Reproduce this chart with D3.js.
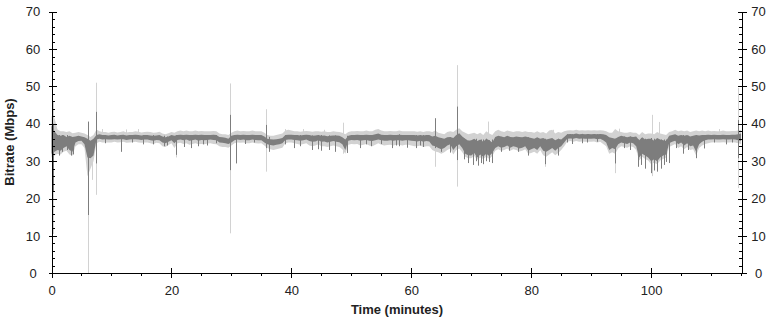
<!DOCTYPE html>
<html>
<head>
<meta charset="utf-8">
<script src="https://cdn.jsdelivr.net/npm/d3@7"></script>
<style>
  html, body { margin: 0; padding: 0; background: #fff; }
  svg { display: block; }
  .tick text { font-family: "Liberation Sans", Arial, sans-serif; font-size: 13px; fill: #222; }
  .title { font-family: "Liberation Sans", Arial, sans-serif; font-size: 13px; font-weight: bold; fill: #222; }
</style>
</head>
<body>
<svg id="root"></svg>
<script>
// samples every half minute, 0 .. 115 min
const sampleStep = 0.5

// dark trace (average) band, low / high edge in Mbps
const darkHi = [
  39.5, 38.0, 37.0, 36.8, 37.0, 36.5, 36.8, 36.5, 36.6, 36.8, 36.6, 36.4, 36.0, 35.5, 36.0, 37.0, 37.2, 37.0, 37.0, 36.9,
  37.0, 37.1, 36.9, 37.0, 37.1, 36.9, 37.0, 37.0, 37.1, 37.0, 36.9, 37.0, 37.0, 36.9, 36.8, 36.9, 37.0, 36.6, 36.4, 36.6,
  37.0, 36.8, 37.0, 37.1, 37.0, 37.1, 37.0, 37.0, 37.1, 37.0, 37.1, 37.0, 37.0, 37.0, 37.1, 37.0, 36.5, 36.4, 36.3, 36.0,
  36.8, 37.0, 37.1, 37.0, 37.1, 37.0, 37.0, 37.1, 37.0, 37.0, 37.0, 36.6, 36.0, 35.9, 35.8, 35.9, 36.0, 36.2, 37.0, 37.1,
  37.1, 37.0, 37.0, 36.9, 37.0, 37.1, 37.0, 36.8, 36.9, 37.0, 36.8, 36.9, 36.7, 36.8, 36.9, 36.9, 36.8, 36.4, 35.8, 36.8,
  37.0, 37.0, 37.1, 37.0, 37.0, 37.1, 37.0, 37.0, 37.2, 37.4, 37.1, 37.0, 37.0, 37.1, 37.0, 37.0, 37.1, 37.0, 37.0, 37.0,
  37.0, 37.0, 36.9, 37.0, 36.9, 37.0, 37.0, 36.6, 36.8, 36.4, 36.2, 36.0, 36.4, 36.5, 36.2, 37.0, 37.5, 36.6, 36.0, 35.5,
  35.6, 36.0, 35.4, 35.8, 35.2, 36.0, 35.6, 35.0, 36.5, 36.8, 36.6, 36.4, 36.8, 36.5, 36.4, 36.6, 36.5, 36.4, 36.6, 36.4,
  36.2, 36.0, 36.4, 36.0, 36.2, 35.8, 36.0, 36.2, 35.6, 36.0, 35.8, 36.5, 37.2, 37.3, 37.2, 37.4, 37.2, 37.3, 37.2, 37.3,
  37.2, 37.3, 37.2, 37.3, 37.2, 37.0, 36.4, 36.2, 36.0, 36.5, 36.8, 36.6, 36.4, 36.6, 36.5, 36.6, 35.6, 36.4, 35.8, 36.0,
  36.0, 35.5, 36.2, 35.8, 35.6, 35.4, 36.8, 37.0, 37.2, 36.8, 37.0, 36.8, 37.0, 36.6, 36.8, 37.0, 36.9, 37.0, 37.0, 37.1,
  37.0, 37.1, 37.0, 37.0, 37.1, 37.0, 37.0, 37.1, 37.1, 37.2, 37.4
]
const darkLo = [
  32.0, 32.5, 33.0, 32.8, 33.5, 34.0, 33.0, 32.5, 35.0, 35.4, 35.5, 34.5, 31.0, 30.8, 31.5, 35.8, 36.0, 35.8, 35.9, 35.8,
  35.8, 35.9, 35.8, 35.9, 35.9, 35.7, 35.8, 35.9, 35.9, 35.8, 35.7, 35.8, 35.8, 35.6, 35.5, 35.7, 35.6, 35.0, 34.8, 35.2,
  35.6, 34.8, 35.7, 35.8, 35.6, 35.8, 35.5, 35.6, 35.8, 35.5, 35.7, 35.6, 35.7, 35.8, 35.7, 35.6, 35.0, 34.9, 34.8, 34.6,
  35.0, 35.6, 35.8, 35.7, 35.8, 35.6, 35.6, 35.8, 35.7, 35.6, 35.6, 35.0, 34.5, 34.3, 34.2, 34.4, 34.5, 34.8, 35.7, 35.8,
  35.8, 35.7, 35.6, 35.5, 35.6, 35.8, 35.4, 35.2, 35.3, 35.6, 35.2, 35.3, 35.0, 35.2, 35.4, 35.2, 35.1, 34.5, 33.0, 35.5,
  35.7, 35.6, 35.7, 35.5, 35.6, 35.7, 35.5, 35.4, 35.6, 35.8, 35.6, 35.5, 35.5, 35.6, 35.5, 35.6, 35.6, 35.5, 35.6, 35.6,
  35.5, 35.4, 35.3, 35.5, 35.2, 35.4, 35.3, 34.2, 34.0, 33.5, 33.2, 33.5, 34.2, 34.5, 33.0, 34.0, 34.5, 33.5, 32.0, 31.6,
  31.5, 32.2, 31.0, 31.8, 31.2, 32.0, 31.4, 32.2, 33.5, 34.0, 33.6, 33.8, 34.2, 33.6, 34.0, 33.8, 33.4, 33.6, 34.0, 32.8,
  33.2, 33.5, 33.0, 34.0, 32.8, 32.5, 33.0, 33.5, 32.8, 33.5, 34.0, 35.0, 36.0, 36.1, 36.0, 36.2, 36.0, 36.1, 36.0, 36.0,
  36.0, 36.1, 35.9, 36.0, 35.6, 35.0, 33.0, 33.5, 33.2, 34.5, 35.0, 34.8, 34.6, 35.0, 34.8, 34.0, 31.0, 32.0, 31.5, 31.0,
  30.0, 30.5, 30.0, 31.0, 31.5, 31.8, 34.8, 35.2, 35.5, 34.5, 35.0, 34.2, 34.8, 34.0, 34.2, 32.5, 34.5, 35.2, 35.6, 35.8,
  35.8, 35.9, 35.8, 35.8, 35.9, 35.8, 35.8, 35.9, 35.8, 35.6, 35.4
]

// light trace (peak) band
const lightHi = [
  42.0, 41.5, 38.5, 38.0, 38.0, 37.8, 38.0, 37.5, 37.6, 37.8, 37.6, 37.4, 37.0, 36.5, 37.0, 38.5, 38.0, 37.8, 37.8, 37.6,
  37.8, 37.9, 37.7, 37.8, 38.0, 37.7, 37.8, 37.8, 38.0, 37.9, 37.7, 37.8, 37.9, 37.8, 37.6, 37.7, 37.9, 37.4, 37.2, 37.5,
  37.8, 37.6, 38.0, 38.2, 38.0, 38.2, 38.0, 38.0, 38.2, 38.0, 38.1, 38.0, 38.0, 38.0, 38.1, 38.0, 37.4, 37.2, 37.2, 37.0,
  37.6, 38.0, 38.2, 38.0, 38.1, 38.0, 38.0, 38.2, 38.0, 38.0, 38.0, 37.6, 37.0, 36.8, 36.8, 37.0, 37.2, 37.4, 38.2, 38.4,
  38.2, 38.0, 38.0, 37.9, 38.0, 38.1, 38.0, 37.9, 38.0, 38.0, 37.9, 38.0, 37.8, 37.8, 38.0, 37.9, 37.8, 37.6, 37.2, 37.8,
  38.0, 38.0, 38.1, 38.0, 38.0, 38.2, 38.0, 38.0, 38.4, 38.6, 38.2, 38.0, 38.0, 38.1, 38.0, 38.0, 38.2, 38.0, 38.0, 38.0,
  38.0, 38.0, 37.9, 38.0, 37.8, 38.0, 38.0, 37.8, 38.2, 37.6, 37.4, 37.2, 37.8, 38.0, 37.8, 38.4, 38.8, 38.0, 37.6, 37.2,
  37.4, 37.6, 37.2, 37.6, 37.0, 38.0, 37.4, 37.0, 38.0, 38.4, 38.0, 37.8, 38.2, 38.0, 37.8, 38.0, 38.0, 37.8, 38.0, 37.8,
  37.8, 37.6, 38.0, 37.6, 37.8, 37.4, 38.2, 38.4, 37.4, 37.8, 37.6, 38.0, 38.2, 38.3, 38.2, 38.4, 38.2, 38.3, 38.2, 38.3,
  38.2, 38.3, 38.2, 38.3, 38.2, 38.0, 37.6, 37.6, 38.6, 38.0, 37.8, 37.6, 37.6, 37.8, 37.6, 37.6, 37.0, 37.8, 37.2, 37.4,
  37.4, 37.2, 37.8, 37.4, 37.2, 37.0, 37.8, 38.0, 38.4, 38.0, 38.2, 38.0, 38.2, 37.8, 38.0, 38.2, 38.0, 38.2, 38.0, 38.2,
  38.0, 38.1, 38.0, 38.0, 38.2, 38.0, 38.0, 38.1, 38.1, 38.2, 38.4
]
const lightLo = [
  31.0, 31.5, 32.0, 31.8, 32.5, 32.8, 31.8, 31.5, 34.0, 34.5, 34.5, 33.5, 26.0, 28.0, 30.0, 34.8, 35.2, 35.0, 35.0, 35.0,
  35.0, 35.2, 35.0, 35.1, 35.2, 34.9, 35.0, 35.1, 35.2, 35.0, 34.9, 35.0, 35.0, 34.8, 34.6, 34.9, 34.8, 34.0, 33.8, 34.3,
  34.8, 33.5, 34.8, 34.9, 34.6, 34.8, 34.4, 34.6, 34.8, 34.5, 34.6, 34.5, 34.7, 34.8, 34.6, 34.5, 34.0, 33.8, 33.8, 33.6,
  34.2, 34.8, 35.0, 34.9, 35.0, 34.8, 34.8, 35.0, 34.8, 34.7, 34.8, 34.2, 33.5, 33.2, 33.0, 33.2, 33.4, 33.6, 34.8, 35.0,
  35.0, 34.8, 34.6, 34.4, 34.6, 34.8, 34.2, 34.0, 34.2, 34.5, 34.0, 34.0, 33.8, 34.0, 34.2, 34.0, 33.8, 33.2, 32.0, 34.4,
  34.6, 34.5, 34.6, 34.2, 34.4, 34.6, 34.2, 34.0, 34.4, 34.8, 34.4, 34.2, 34.3, 34.4, 34.2, 34.4, 34.4, 34.2, 34.4, 34.4,
  34.2, 34.0, 34.0, 34.2, 33.8, 34.0, 34.0, 33.0, 32.6, 32.4, 32.0, 32.4, 33.0, 33.4, 31.8, 33.0, 33.4, 32.4, 31.2, 30.8,
  30.8, 31.4, 30.4, 31.0, 30.6, 31.2, 30.6, 31.4, 32.8, 33.2, 32.8, 33.0, 33.4, 32.8, 33.2, 33.0, 32.6, 32.8, 33.2, 32.0,
  32.2, 32.5, 32.0, 33.0, 31.6, 31.2, 31.8, 32.4, 31.6, 32.2, 33.0, 34.0, 35.2, 35.4, 35.2, 35.4, 35.2, 35.3, 35.2, 35.2,
  35.2, 35.3, 35.0, 35.2, 34.6, 34.0, 32.0, 32.4, 32.0, 33.4, 34.0, 33.8, 33.6, 34.0, 33.8, 33.0, 30.2, 31.2, 30.6, 30.2,
  29.2, 29.6, 29.2, 30.2, 30.6, 31.0, 33.8, 34.2, 34.6, 33.5, 34.0, 33.2, 33.8, 33.0, 33.2, 31.5, 33.5, 34.2, 34.6, 34.8,
  35.0, 35.1, 35.0, 35.0, 35.1, 35.0, 35.0, 35.1, 35.0, 34.8, 34.6
]

// single-frame excursions (minutes, low, high)
const lightSpikeT  = [0.2, 6.1, 6.8, 7.45, 8.5, 12.5, 14.5, 20.7, 29.85, 35.85, 39.0, 42.0, 45.5, 48.6, 63.9, 67.7, 72.8, 82.3, 83.6, 93.9, 94.6, 100.1, 101.3, 111.3, 114.5]
const lightSpikeLo = [10.5, 0, 25, 21, 36, 36, 36, 31, 10.7, 27.2, 36, 36, 36, 32, 28.5, 23.2, 33, 28.5, 33, 26.8, 34, 26, 30, 36, 22.8]
const lightSpikeHi = [46, 37, 36, 51, 38.6, 38.5, 38.6, 37, 50.8, 43.9, 38.6, 38.6, 38.4, 40.3, 41, 55.7, 40.6, 36, 38.4, 37.6, 38.7, 42.4, 40.5, 38.6, 49.6]

const darkSpikeT = [0.2, 1.2, 1.8, 2.6, 3.3, 3.6, 6.1, 7.45, 11.6, 15.2, 17.0, 18.8, 19.3, 20.7, 22.1, 23.2, 24.5, 26.0, 29.85, 30.8,
  35.85, 36.3, 40.4, 43.5, 44.5, 45.0, 46.2, 47.2, 49.2, 51.5, 53.2, 56.8, 58.0, 59.3, 60.8, 62.0, 63.9, 65.0, 66.5, 67.7,
  69.5, 70.3, 71.2, 72.0, 73.5, 75.0, 76.3, 77.8, 79.5, 82.3, 84.5, 86.8, 88.5, 89.3, 93.9, 96.5, 97.8, 99.0, 99.9, 100.9,
  102.5, 103.0, 105.3, 107.5, 108.8, 112.5, 114.5,
  68.8, 70.8, 71.6, 72.5, 73.0, 98.3, 100.4, 101.7, 102.2, 9.0, 13.4, 25.3, 27.5, 32.2, 33.8, 38.9, 41.5, 52.4, 55.0, 57.5,
  61.5, 86.0, 91.0, 95.5, 104.2, 106.2, 110.4, 113.5]
const darkSpikeLo = [22, 31.5, 32.5, 33, 31.5, 31.8, 15.6, 29.4, 32.5, 34.5, 34.5, 34.0, 34.2, 31.7, 33.8, 33.5, 34, 34.2, 27.6, 29.4,
  33.5, 32.5, 33.5, 33.0, 33.2, 32.8, 33, 32.5, 32.2, 33.5, 34, 33.5, 34, 33.6, 33.5, 33.8, 33.5, 32.5, 32.3, 30.3,
  29.5, 29, 28.8, 29.2, 29.5, 32.5, 32.8, 32.5, 31.5, 29.2, 31.5, 34.6, 34.8, 35, 29.4, 33, 28.5, 28, 26.8, 27.2,
  29.8, 29.5, 32, 30.8, 33.4, 34.5, 30.8,
  30.5, 30, 29.5, 30, 29.8, 29, 27.5, 28, 29, 34.8, 35, 34.5, 34.8, 34.6, 35, 34.5, 34, 34.5, 34.6, 34.2,
  34.2, 35, 35.2, 33.5, 33.5, 33, 35, 35]
const darkSpikeHi = [40, 37, 37, 37, 36.5, 36, 40.6, 43.2, 37, 37, 37, 36.8, 36.6, 37, 37, 37, 37, 37, 42.4, 36.5,
  39.7, 36.5, 37, 36.9, 37, 37, 36.9, 36.9, 36.8, 37, 37, 37, 37.2, 37, 37, 37, 41.5, 36.2, 36.4, 44.6,
  35.5, 35.6, 35.4, 35.8, 35.8, 36.5, 36.5, 36.4, 36.4, 36, 36, 37.2, 37.3, 37.2, 36, 36.6, 35.8, 36, 36.2, 35.5,
  35.8, 35.6, 37, 37, 37, 37, 41,
  36, 36, 35.8, 36, 35.6, 36.2, 36, 35.8, 35.8, 37, 37, 37, 37, 37, 37, 37, 37, 37, 37, 37,
  37, 37.2, 37.2, 36.6, 36.8, 36.8, 37, 37]

const yMajor = [0, 10, 20, 30, 40, 50, 60, 70]
const xMajor = [0, 20, 40, 60, 80, 100]

const width = 774, height = 320
const svg = d3.select("#root").attr("width", width).attr("height", height)

const x = d3.scaleLinear([0, 115.2], [51.5, 742.3])
const y = d3.scaleLinear([0, 70], [273.3, 11.7])

function band(hi, lo) {
  const data = []
  for (let i = 0; i < hi.length; i++) {
    data.push({t: i * sampleStep, hi: hi[i], lo: lo[i]})
  }
  return data
}
function spikes(ts, lo, hi) {
  const n = Math.min(ts.length, lo.length, hi.length)
  const data = []
  for (let i = 0; i < n; i++) data.push({t: ts[i], lo: lo[i], hi: hi[i]})
  return data
}

const area = d3.area()
  .x(d => x(d.t))
  .y0(d => y(d.lo))
  .y1(d => y(d.hi))

const lightColor = "#d2d2d2", darkColor = "#7d7d7d"

// light band + spikes
svg.append("path")
  .datum(band(lightHi, lightLo))
  .attr("fill", lightColor)
  .attr("d", area)
svg.append("g").selectAll("line")
  .data(spikes(lightSpikeT, lightSpikeLo, lightSpikeHi))
  .join("line")
  .attr("x1", d => Math.round(x(d.t)) + 0.5)
  .attr("x2", d => Math.round(x(d.t)) + 0.5)
  .attr("y1", d => y(d.lo))
  .attr("y2", d => y(d.hi))
  .attr("stroke", lightColor)
  .attr("stroke-width", 1)

// dark band + spikes
svg.append("path")
  .datum(band(darkHi, darkLo))
  .attr("fill", darkColor)
  .attr("d", area)
svg.append("g").selectAll("line")
  .data(spikes(darkSpikeT, darkSpikeLo, darkSpikeHi))
  .join("line")
  .attr("x1", d => Math.round(x(d.t)) + 0.5)
  .attr("x2", d => Math.round(x(d.t)) + 0.5)
  .attr("y1", d => y(d.lo))
  .attr("y2", d => y(d.hi))
  .attr("stroke", darkColor)
  .attr("stroke-width", 1)

// Axes
const yMinor = d3.range(0, 70.1, 2)
const xMinor = d3.range(0, 115.1, 5)

function styleAxis(g) {
  g.attr("shape-rendering", "crispEdges")
  g.selectAll("path, line").attr("stroke", "#000")
}

// left
svg.append("g")
  .attr("transform", "translate(52,0)")
  .call(d3.axisRight(y).tickValues(yMinor).tickSize(3).tickSizeOuter(0).tickFormat(""))
  .call(g => g.select(".domain").remove())
  .call(styleAxis)
svg.append("g")
  .attr("transform", "translate(52,0)")
  .call(d3.axisRight(y).tickValues(yMajor).tickSize(4.5).tickSizeOuter(0).tickFormat(""))
  .call(g => g.select(".domain").remove())
  .call(styleAxis)
svg.append("g")
  .attr("transform", "translate(52,0)")
  .call(d3.axisLeft(y).tickValues(yMajor).tickSize(3).tickSizeOuter(0))
  .call(styleAxis)
  .call(g => g.selectAll("text").attr("x", -19).attr("text-anchor", "middle"))

// right
svg.append("g")
  .attr("transform", "translate(742,0)")
  .call(d3.axisLeft(y).tickValues(yMinor).tickSize(3).tickSizeOuter(0).tickFormat(""))
  .call(g => g.select(".domain").remove())
  .call(styleAxis)
svg.append("g")
  .attr("transform", "translate(742,0)")
  .call(d3.axisLeft(y).tickValues(yMajor).tickSize(4).tickSizeOuter(0).tickFormat(""))
  .call(g => g.select(".domain").remove())
  .call(styleAxis)
svg.append("g")
  .attr("transform", "translate(742,0)")
  .call(d3.axisRight(y).tickValues(yMajor).tickSize(4.5).tickSizeOuter(0))
  .call(styleAxis)
  .call(g => g.selectAll("text").attr("x", 16.5).attr("text-anchor", "middle"))

// bottom
svg.append("g")
  .attr("transform", "translate(0,273)")
  .call(d3.axisBottom(x).tickValues(xMinor).tickSize(3).tickSizeOuter(0).tickFormat(""))
  .call(g => g.select(".domain").remove())
  .call(styleAxis)
svg.append("g")
  .attr("transform", "translate(0,273)")
  .call(d3.axisTop(x).tickValues(xMajor).tickSize(5).tickSizeOuter(0).tickFormat(""))
  .call(g => g.select(".domain").remove())
  .call(styleAxis)
svg.append("g")
  .attr("transform", "translate(0,273)")
  .call(d3.axisBottom(x).tickValues(xMajor).tickSize(5).tickSizeOuter(0))
  .call(styleAxis)
  .call(g => g.selectAll("text").attr("y", 12.5))

// Axis titles
svg.append("text")
  .attr("class", "title")
  .attr("text-anchor", "middle")
  .attr("x", 397)
  .attr("y", 314)
  .text("Time (minutes)")

svg.append("text")
  .attr("class", "title")
  .attr("text-anchor", "middle")
  .attr("transform", "translate(14,142) rotate(-90)")
  .text("Bitrate (Mbps)")
</script>
</body>
</html>
